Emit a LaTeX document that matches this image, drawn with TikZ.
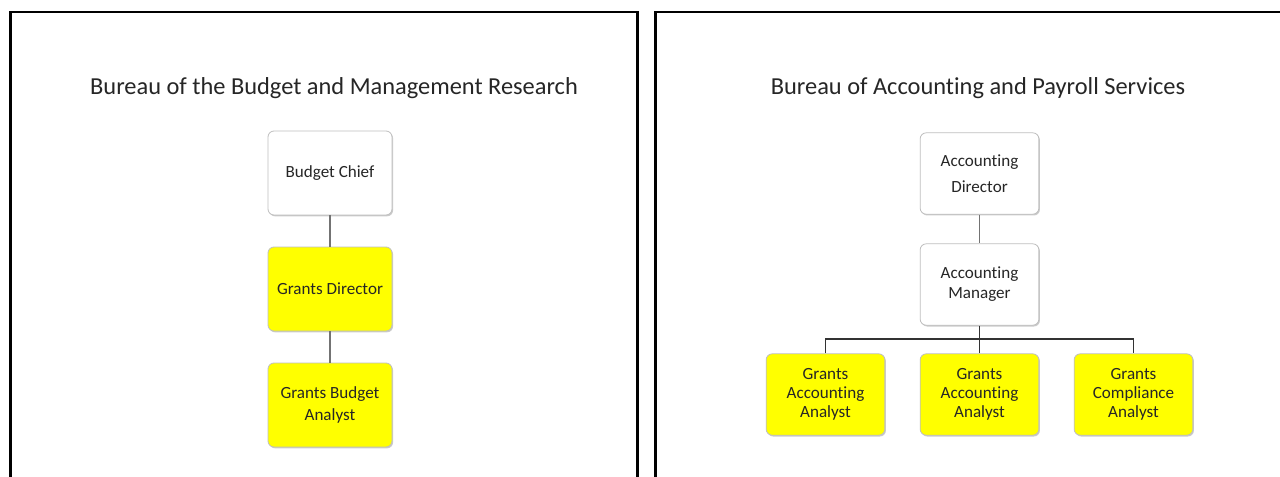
\documentclass[tikz,border=0pt]{standalone}
\usepackage{fontspec}
\setmainfont{Carlito}[Ligatures={NoCommon}]
\usetikzlibrary{shadows}
\definecolor{boxyellow}{RGB}{255,255,0}
\begin{document}
\begin{tikzpicture}[x=0.75pt,y=-0.75pt,
  panel/.style={draw=black,line width=1.6pt},
  title/.style={font=\fontsize{18.3}{22}\selectfont,text=black!85},
  orgbox/.style={draw=black!25,line width=0.6pt,rounded corners=4.5pt,
    minimum width=93pt,minimum height=63pt,align=center,inner sep=1pt,
    font=\fontsize{12.8}{14}\selectfont,text=black!85,
    drop shadow={shadow xshift=0.8pt,shadow yshift=-1pt,fill=black!40,opacity=0.5}},
  smallbox/.style={orgbox,minimum width=89pt,minimum height=61pt},
  plain/.style={fill=white},
  hi/.style={fill=boxyellow},
  link/.style={draw=black!55,line width=1.3pt},
  bus/.style={draw=black!80,line width=1pt}]
  \useasboundingbox (0,0) rectangle (1280,477);
  \fill[white] (0,0) rectangle (1280,477);
  % panel frames (cut off at the lower edge)
  \draw[panel] (10.5,490) -- (10.5,12) -- (637.5,12) -- (637.5,490);
  \draw[panel] (655.5,490) -- (655.5,12) -- (1300,12);
  % left panel
  \node[title] (t1) at (334,88) {Bureau of the Budget and Management Research};
  \node[orgbox,plain] (chief) at (330,173) {Budget Chief};
  \node[orgbox,hi] (gdir) at (330,289) {Grants Director};
  \node[orgbox,hi,font=\fontsize{12.8}{16}\selectfont] (gba) at (330,405) {Grants Budget\\Analyst};
  \draw[link] (chief) -- (gdir);
  \draw[link] (gdir) -- (gba);
  % right panel
  \node[title] (t2) at (978,88) {Bureau of Accounting and Payroll Services};
  \node[smallbox,plain,font=\fontsize{12.8}{19.5}\selectfont] (adir) at (979.5,173.5) {Accounting\\Director};
  \node[smallbox,plain,font=\fontsize{12.8}{15}\selectfont] (amgr) at (979.5,284.5) {Accounting\\Manager};
  \node[smallbox,hi] (gaa1) at (825.5,394.5) {Grants\\Accounting\\Analyst};
  \node[smallbox,hi] (gaa2) at (979.5,394.5) {Grants\\Accounting\\Analyst};
  \node[smallbox,hi] (gca) at (1133.5,394.5) {Grants\\Compliance\\Analyst};
  \draw[link] (adir) -- (amgr);
  \coordinate (busy) at (0,339);
  \draw[bus] (amgr.south) -- (amgr.south |- busy);
  \draw[bus] (gaa1.north) -- (gaa1.north |- busy) -- (gca.north |- busy) -- (gca.north);
  \draw[bus] (gaa2.north) -- (gaa2.north |- busy);
\end{tikzpicture}
\end{document}
